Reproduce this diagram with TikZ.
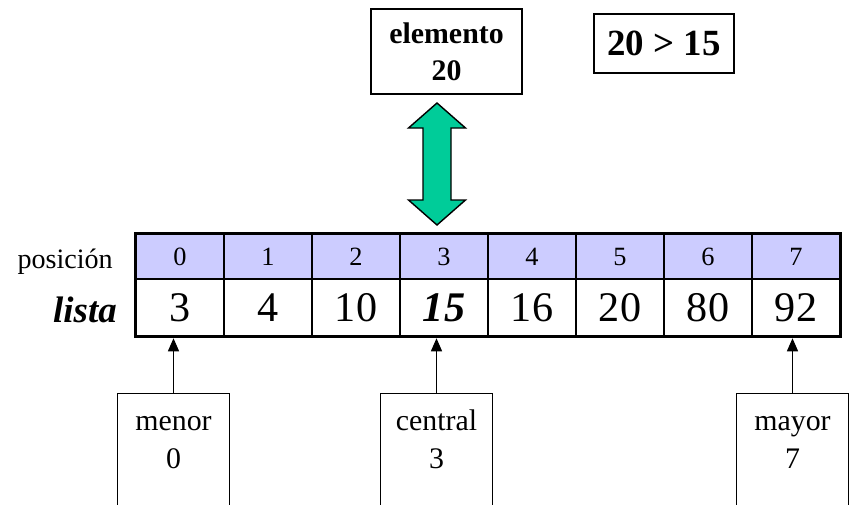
\documentclass[tikz,border=0pt]{standalone}
\usepackage{fontspec}
\setmainfont{Liberation Serif}
\usetikzlibrary{arrows.meta}
\definecolor{cmpgreen}{RGB}{0,204,153}
\definecolor{poscolor}{RGB}{204,204,255}
\begin{document}
\begin{tikzpicture}
[x=0.02cm,y=-0.02cm,
info box/.style={draw,line width=0.8pt,align=center,inner sep=0pt,font=\bfseries\fontsize{17}{21}\selectfont},
pos cell/.style={draw,line width=0.6pt,fill=poscolor,minimum width=1.76cm,minimum height=0.9cm,inner sep=0pt,font=\fontsize{15}{17}\selectfont},
val cell/.style={draw,line width=0.6pt,minimum width=1.76cm,minimum height=1.14cm,inner sep=0pt,font=\fontsize{24}{28}\selectfont},
ptr box/.style={draw,line width=0.8pt,anchor=north,align=center,minimum width=2.24cm,inner sep=0pt,text height=1.5cm,text depth=1.2cm,font=\fontsize{17}{22}\selectfont},
ptr/.style={line width=0.8pt,-{Triangle[length=0.26cm,width=0.22cm]},shorten >=1pt}]
\path[use as bounding box,clip] (0,0) rectangle (849,504);
\node[info box,minimum width=3.02cm,minimum height=1.7cm] (elemento) at (446.5,51.5) {elemento\\20};
\node[info box,minimum width=2.8cm,minimum height=1.18cm,font=\bfseries\fontsize{21}{25}\selectfont] (cmp) at (664,43.5) {20 > 15};
\draw[line width=0.8pt,fill=cmpgreen] (437,103) -- (465.5,128) -- (451,128) -- (451,200) -- (465.5,200) -- (437,225)
-- (408.5,200) -- (423,200) -- (423,128) -- (408.5,128) -- cycle;
\foreach \v [count=\i from 0] in {3,4,10,{\bfseries\itshape 15},16,20,80,92}
{
\node[pos cell] (p\i) at ({180+88*\i},256.5) {\i};
\node[val cell] (v\i) at ({180+88*\i},307.5) {\v};
}
\draw[line width=1.7pt] (p0.north west) rectangle (v7.south east);
\node[anchor=base east,font=\fontsize{16}{18}\selectfont] (posicion) at (119,268) {posición};
\node[anchor=base east,font=\bfseries\itshape\fontsize{21}{24}\selectfont] (lista) at (123,322) {lista};
\node[ptr box] (menor) at (173.5,393) {menor\\0};
\node[ptr box] (central) at (436.5,393) {central\\3};
\node[ptr box] (mayor) at (792.5,393) {mayor\\7};
\draw[ptr] (menor.north) -- (menor.north |- v0.south);
\draw[ptr] (central.north) -- (central.north |- v3.south);
\draw[ptr] (mayor.north) -- (mayor.north |- v7.south);
\end{tikzpicture}
\end{document}
